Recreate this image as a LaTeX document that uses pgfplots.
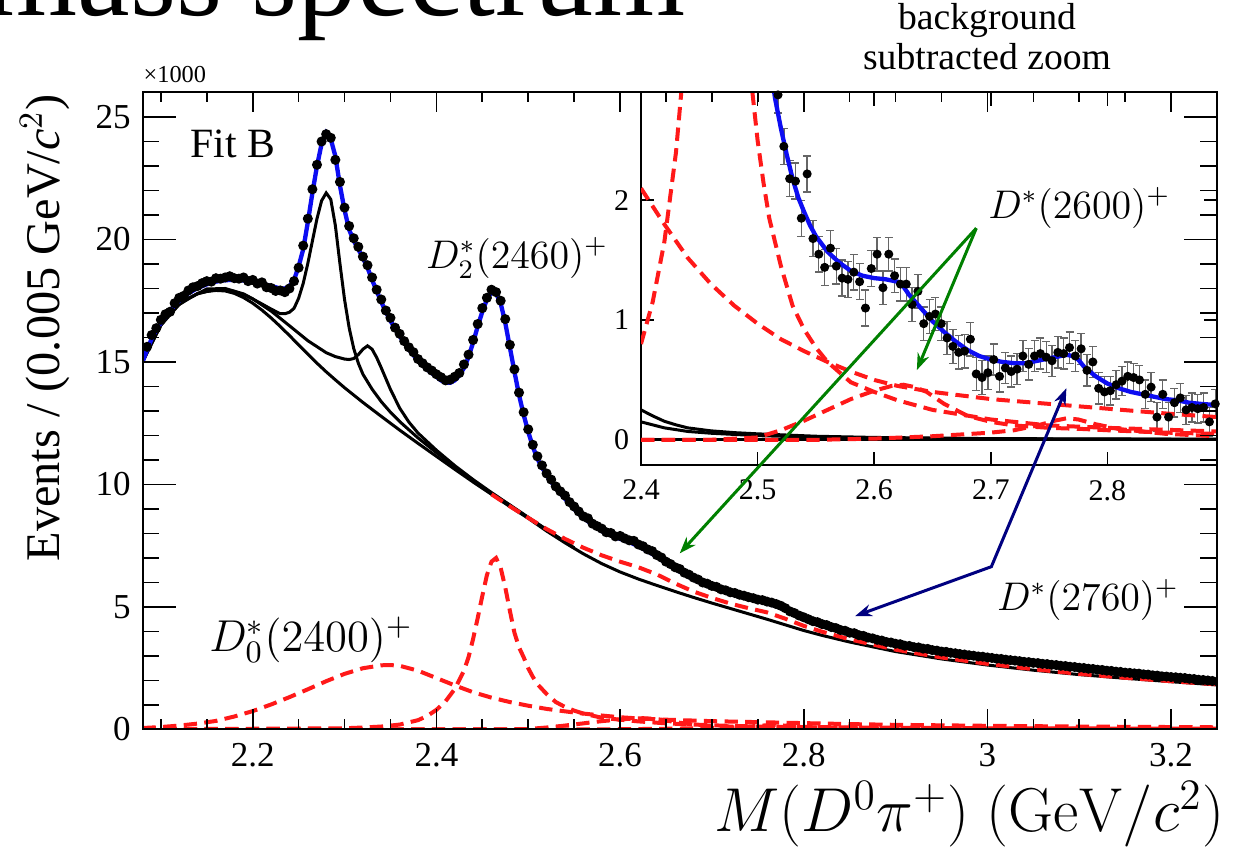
\RequirePackage{fix-cm}
\documentclass[border=0pt]{standalone}
\usepackage[no-math]{fontspec}
\setmainfont{Liberation Serif}
\usepackage{pgfplots}
\pgfplotsset{compat=1.18}
\usetikzlibrary{arrows.meta}
\definecolor{fitblue}{rgb}{0.05,0.05,0.95}
\definecolor{compred}{rgb}{1,0.1,0.1}
\definecolor{arrgreen}{rgb}{0,0.5,0}
\definecolor{arrnavy}{rgb}{0,0,0.5}
\pgfplotsset{
  /pgf/number format/assume math mode=true,
  compdash/.style={compred, line width=1.2pt, dash pattern=on 4pt off 2.2pt},
  bline/.style={black, line width=0.9pt},
  fitline/.style={fitblue, line width=1.3pt},
  mainbox/.style={at={(42.75pt,37.05pt)}, anchor=south west, scale only axis,
    width=322.35pt, height=191.1pt, xmin=2.08, xmax=3.25, ymin=0, ymax=26,
    axis line style={line width=0.6pt}, tick align=inside,
    tick style={black, line width=0.5pt}},
}
\begin{document}
\begin{tikzpicture}
% ---------------- main axis with the curves ----------------
\begin{axis}[mainbox, xtick=\empty, ytick=\empty]
% data
\addplot[only marks, mark=*, mark size=1.3pt, black] table {
2.085 15.62
2.090 16.10
2.095 16.38
2.100 16.72
2.105 16.95
2.110 17.05
2.115 17.40
2.120 17.62
2.125 17.70
2.130 17.92
2.135 18.05
2.140 18.10
2.145 18.22
2.150 18.30
2.155 18.28
2.160 18.42
2.165 18.40
2.170 18.45
2.175 18.50
2.180 18.42
2.185 18.40
2.190 18.45
2.195 18.30
2.200 18.35
2.205 18.20
2.210 18.25
2.215 18.05
2.220 18.02
2.225 17.90
2.230 17.92
2.235 17.85
2.240 18.00
2.245 18.30
2.250 18.85
2.255 19.75
2.260 20.85
2.265 22.05
2.270 23.05
2.275 24.00
2.280 24.30
2.285 24.15
2.290 23.25
2.295 22.35
2.300 21.30
2.305 20.55
2.310 20.05
2.315 19.70
2.320 19.30
2.325 18.95
2.330 18.45
2.335 17.95
2.340 17.55
2.345 17.10
2.350 16.80
2.355 16.40
2.360 16.15
2.365 15.85
2.370 15.60
2.375 15.40
2.380 15.12
2.385 14.95
2.390 14.78
2.395 14.65
2.400 14.50
2.405 14.38
2.410 14.25
2.415 14.28
2.420 14.40
2.425 14.55
2.430 14.90
2.435 15.30
2.440 15.90
2.445 16.55
2.450 17.20
2.455 17.62
2.460 17.95
2.465 17.85
2.470 17.50
2.475 16.75
2.480 15.70
2.485 14.70
2.490 13.75
2.495 12.95
2.500 12.25
2.505 11.62
2.510 11.15
2.515 10.78
2.520 10.45
2.525 10.20
2.530 9.92
2.535 9.72
2.540 9.55
2.545 9.28
2.550 9.10
2.555 8.90
2.560 8.70
2.565 8.62
2.570 8.40
2.575 8.30
2.580 8.20
2.585 8.05
2.590 8.02
2.595 7.88
2.600 7.90
2.605 7.80
2.610 7.72
2.615 7.70
2.620 7.55
2.625 7.48
2.630 7.35
2.635 7.28
2.640 7.12
2.645 7.02
2.650 6.85
2.655 6.75
2.660 6.62
2.665 6.55
2.670 6.40
2.675 6.32
2.680 6.20
2.685 6.12
2.690 6.00
2.695 5.95
2.700 5.86
2.705 5.82
2.710 5.72
2.715 5.68
2.720 5.60
2.725 5.57
2.730 5.50
2.735 5.46
2.740 5.40
2.745 5.36
2.750 5.30
2.755 5.28
2.760 5.22
2.765 5.18
2.770 5.12
2.775 5.05
2.780 4.95
2.785 4.82
2.790 4.75
2.795 4.65
2.800 4.58
2.805 4.50
2.810 4.42
2.815 4.38
2.820 4.30
2.825 4.26
2.830 4.18
2.835 4.14
2.840 4.06
2.845 4.03
2.850 3.95
2.855 3.93
2.860 3.85
2.865 3.82
2.870 3.75
2.875 3.72
2.880 3.66
2.885 3.63
2.890 3.57
2.895 3.55
2.900 3.50
2.905 3.48
2.910 3.42
2.915 3.41
2.920 3.36
2.925 3.35
2.930 3.30
2.935 3.29
2.940 3.24
2.945 3.22
2.950 3.18
2.955 3.17
2.960 3.13
2.965 3.11
2.970 3.08
2.975 3.06
2.980 3.03
2.985 3.01
2.990 2.98
2.995 2.97
3.000 2.94
3.005 2.92
3.010 2.89
3.015 2.88
3.020 2.85
3.025 2.83
3.030 2.81
3.035 2.79
3.040 2.76
3.045 2.75
3.050 2.72
3.055 2.71
3.060 2.68
3.065 2.67
3.070 2.64
3.075 2.63
3.080 2.60
3.085 2.59
3.090 2.56
3.095 2.55
3.100 2.52
3.105 2.51
3.110 2.48
3.115 2.47
3.120 2.44
3.125 2.43
3.130 2.40
3.135 2.39
3.140 2.36
3.145 2.35
3.150 2.32
3.155 2.31
3.160 2.29
3.165 2.28
3.170 2.25
3.175 2.24
3.180 2.21
3.185 2.20
3.190 2.17
3.195 2.16
3.200 2.14
3.205 2.13
3.210 2.11
3.215 2.10
3.220 2.07
3.225 2.06
3.230 2.03
3.235 2.02
3.240 2.00
3.245 1.98
};
% background (black)
\addplot[bline] table {
2.08 15.0
2.09 15.85
2.10 16.5
2.11 17.0
2.12 17.35
2.13 17.6
2.14 17.78
2.15 17.88
2.16 17.92
2.17 17.9
2.18 17.8
2.19 17.63
2.20 17.4
2.21 17.12
2.22 16.8
2.23 16.45
2.24 16.08
2.25 15.7
2.26 15.32
2.27 14.95
2.28 14.6
2.29 14.27
2.30 13.95
2.32 13.35
2.34 12.78
2.36 12.22
2.38 11.68
2.40 11.15
2.42 10.62
2.44 10.1
2.46 9.6
2.48 9.1
2.50 8.62
2.52 8.1
2.54 7.62
2.56 7.17
2.58 6.77
2.60 6.43
2.62 6.14
2.64 5.88
2.66 5.63
2.68 5.39
2.70 5.16
2.72 4.94
2.74 4.72
2.76 4.5
2.78 4.27
2.80 4.04
2.82 3.84
2.85 3.57
2.90 3.18
2.95 2.88
3.00 2.63
3.05 2.42
3.10 2.24
3.15 2.09
3.20 1.95
3.25 1.82
};
% background + narrow feed-down (black)
\addplot[bline] table {
2.08 15.0
2.10 16.5
2.12 17.35
2.14 17.8
2.16 17.95
2.17 17.95
2.18 17.88
2.19 17.75
2.20 17.57
2.21 17.37
2.22 17.16
2.23 16.97
2.235 16.97
2.24 17.03
2.245 17.19
2.25 17.6
2.255 18.21
2.26 19.02
2.265 19.94
2.27 20.85
2.275 21.58
2.28 21.9
2.285 21.64
2.29 20.57
2.295 19.01
2.30 17.55
2.305 16.4
2.31 15.55
2.315 14.95
2.32 14.5
2.33 13.89
2.34 13.38
2.35 12.95
2.36 12.57
2.38 11.9
2.40 11.3
2.42 10.72
2.44 10.17
2.46 9.65
2.50 8.65
2.55 7.41
};
% background + broad feed-down (black)
\addplot[bline] table {
2.08 15.0
2.10 16.52
2.12 17.4
2.15 17.98
2.17 18.0
2.19 17.78
2.20 17.58
2.22 17.08
2.24 16.48
2.26 15.87
2.28 15.38
2.29 15.22
2.30 15.12
2.305 15.1
2.31 15.14
2.315 15.3
2.32 15.52
2.325 15.66
2.33 15.52
2.335 15.18
2.34 14.76
2.345 14.32
2.35 13.88
2.36 13.12
2.37 12.55
2.38 12.1
2.40 11.4
2.42 10.77
2.44 10.2
2.46 9.67
2.50 8.66
2.55 7.41
};
% background + D*(2600) + D*(2760) (red dashed)
\addplot[compdash] table {
2.46 9.6
2.48 9.11
2.50 8.64
2.52 8.18
2.54 7.78
2.56 7.42
2.58 7.11
2.60 6.85
2.62 6.62
2.64 6.33
2.66 5.96
2.68 5.63
2.70 5.37
2.72 5.14
2.74 4.95
2.76 4.78
2.78 4.52
2.80 4.23
2.82 3.99
2.85 3.68
2.90 3.26
2.95 2.94
3.00 2.68
3.05 2.46
3.10 2.27
3.15 2.11
3.20 1.97
3.25 1.84
};
% D0*(2400)
\addplot[compdash] table {
2.08 0.06
2.10 0.1
2.12 0.16
2.14 0.24
2.16 0.35
2.18 0.53
2.20 0.75
2.22 1.02
2.24 1.32
2.26 1.64
2.28 1.97
2.30 2.27
2.32 2.5
2.34 2.62
2.35 2.63
2.36 2.6
2.38 2.4
2.40 2.1
2.42 1.8
2.44 1.52
2.46 1.3
2.48 1.12
2.50 0.97
2.52 0.84
2.54 0.74
2.56 0.65
2.58 0.57
2.60 0.5
2.62 0.45
2.65 0.4
2.70 0.34
2.75 0.3
2.80 0.26
2.85 0.22
2.90 0.19
3.00 0.15
3.10 0.12
3.25 0.09
};
% D2*(2460)
\addplot[compdash] table {
2.08 0.02
2.20 0.03
2.30 0.05
2.32 0.08
2.34 0.12
2.36 0.2
2.38 0.38
2.39 0.55
2.40 0.8
2.41 1.15
2.42 1.65
2.43 2.4
2.435 2.95
2.44 3.7
2.445 4.55
2.45 5.45
2.455 6.3
2.46 6.85
2.465 7.0
2.47 6.6
2.475 5.8
2.48 4.85
2.485 3.95
2.49 3.35
2.495 2.95
2.50 2.5
2.505 2.15
2.51 1.85
2.52 1.45
2.53 1.12
2.54 0.92
2.55 0.77
2.56 0.65
2.58 0.48
2.60 0.4
2.62 0.33
2.65 0.25
2.70 0.17
2.75 0.12
2.80 0.1
2.90 0.07
3.00 0.05
3.25 0.03
};
% D*(2600)
\addplot[compdash] table {
2.08 0.0
2.40 0.0
2.46 0.0
2.48 0.01
2.50 0.02
2.52 0.08
2.54 0.16
2.56 0.25
2.58 0.34
2.60 0.41
2.615 0.45
2.625 0.46
2.635 0.44
2.645 0.4
2.66 0.3
2.68 0.2
2.70 0.15
2.72 0.12
2.75 0.1
2.78 0.09
2.80 0.08
2.85 0.06
2.90 0.05
3.00 0.03
3.10 0.02
3.25 0.01
};
% D*(2760)
\addplot[compdash] table {
2.08 0.0
2.55 0.0
2.60 0.01
2.65 0.03
2.70 0.06
2.72 0.08
2.74 0.12
2.755 0.16
2.765 0.18
2.775 0.17
2.79 0.13
2.81 0.09
2.85 0.05
2.90 0.03
3.00 0.02
3.25 0.01
};
% total fit (blue)
\addplot[fitline] table {
2.080 15.00
2.085 15.50
2.090 15.95
2.095 16.30
2.100 16.60
2.110 17.10
2.120 17.50
2.130 17.80
2.140 18.02
2.150 18.17
2.160 18.28
2.170 18.34
2.180 18.35
2.190 18.33
2.200 18.28
2.210 18.20
2.220 18.10
2.225 18.05
2.230 18.00
2.235 18.00
2.240 18.10
2.245 18.35
2.250 18.90
2.255 19.60
2.260 20.70
2.265 21.90
2.270 23.00
2.275 23.90
2.280 24.35
2.285 24.10
2.290 23.40
2.295 22.20
2.300 21.20
2.305 20.40
2.310 19.95
2.315 19.60
2.320 19.25
2.325 18.85
2.330 18.35
2.335 17.90
2.340 17.45
2.345 17.05
2.350 16.68
2.360 16.05
2.370 15.52
2.380 15.05
2.390 14.70
2.400 14.40
2.405 14.25
2.410 14.15
2.415 14.15
2.420 14.25
2.425 14.45
2.430 14.75
2.435 15.20
2.440 15.80
2.445 16.45
2.450 17.05
2.455 17.55
2.460 17.85
2.465 17.80
2.470 17.40
2.475 16.60
2.480 15.60
2.485 14.60
2.490 13.65
2.495 12.85
2.500 12.15
2.505 11.55
2.510 11.05
2.515 10.70
2.520 10.38
2.530 9.85
2.540 9.42
2.550 9.00
2.560 8.65
2.570 8.35
2.580 8.10
2.590 7.93
2.600 7.78
2.610 7.65
2.620 7.48
2.630 7.28
2.640 7.05
2.650 6.80
2.660 6.55
2.670 6.34
2.680 6.13
2.690 5.95
2.700 5.80
2.710 5.67
2.720 5.54
2.730 5.43
2.740 5.33
2.750 5.24
2.760 5.15
2.770 5.04
2.780 4.87
2.790 4.68
2.800 4.50
2.810 4.36
2.820 4.24
2.840 4.01
2.860 3.80
2.880 3.61
2.900 3.45
2.925 3.29
2.950 3.14
2.975 3.01
3.000 2.90
3.025 2.79
3.050 2.68
3.075 2.58
3.100 2.48
3.125 2.38
3.150 2.28
3.175 2.19
3.200 2.10
3.225 2.01
3.250 1.92
};
\end{axis}

% ---------------- inset: background subtracted zoom ----------------
\begin{axis}[at={(192.3pt,116.4pt)}, anchor=south west, scale only axis,
  width=172.8pt, height=111.75pt,
  xmin=2.4, xmax=2.894, ymin=-0.21, ymax=2.9,
  xtick={2.4,2.5,2.6,2.7,2.8}, ytick={0,1,2},
  tick align=inside, major tick length=4pt,
  tick style={black, line width=0.5pt},
  axis line style={line width=0.6pt},
  axis background/.style={fill=white},
  ticklabel style={font=\fontsize{9}{10}\selectfont},
  xticklabel style={yshift=-1pt},
  xticklabel={\pgfmathprintnumber[fixed,precision=1,fixed zerofill]{\tick}},
]
\addplot[only marks, mark=*, mark size=1.15pt, black,
  error bars/.cd, y dir=both, y explicit,
  error bar style={gray!80!black, line width=0.4pt},
  error mark options={gray!80!black, mark size=1.2pt, line width=0.4pt, rotate=90}]
  table[x=x, y=y, y error=e] {
x y e
2.5175 2.88 0.15
2.5225 2.45 0.15
2.5275 2.18 0.15
2.5325 2.16 0.15
2.5375 1.85 0.15
2.5425 2.22 0.15
2.5475 1.68 0.15
2.5525 1.55 0.15
2.5575 1.44 0.15
2.5625 1.60 0.15
2.5675 1.45 0.15
2.5725 1.35 0.15
2.5775 1.34 0.15
2.5825 1.40 0.15
2.5875 1.32 0.15
2.5925 1.10 0.15
2.5975 1.43 0.15
2.6025 1.55 0.14
2.6075 1.27 0.14
2.6125 1.55 0.14
2.6175 1.37 0.14
2.6225 1.30 0.14
2.6275 1.30 0.14
2.6325 1.13 0.14
2.6375 1.24 0.14
2.6425 0.97 0.14
2.6475 1.03 0.14
2.6525 1.05 0.14
2.6575 0.97 0.14
2.6625 0.85 0.14
2.6675 0.78 0.14
2.6725 0.73 0.14
2.6775 0.74 0.14
2.6825 0.84 0.14
2.6875 0.55 0.14
2.6925 0.52 0.14
2.6975 0.56 0.14
2.7025 0.67 0.13
2.7075 0.53 0.13
2.7125 0.60 0.13
2.7175 0.57 0.13
2.7225 0.59 0.13
2.7275 0.70 0.13
2.7325 0.63 0.13
2.7375 0.70 0.13
2.7425 0.72 0.13
2.7475 0.69 0.13
2.7525 0.66 0.13
2.7575 0.73 0.13
2.7625 0.72 0.13
2.7675 0.77 0.13
2.7725 0.70 0.13
2.7775 0.76 0.13
2.7825 0.58 0.13
2.7875 0.65 0.13
2.7925 0.43 0.13
2.7975 0.40 0.13
2.8025 0.41 0.12
2.8075 0.46 0.12
2.8125 0.49 0.12
2.8175 0.53 0.12
2.8225 0.52 0.12
2.8275 0.50 0.12
2.8325 0.38 0.12
2.8375 0.44 0.12
2.8425 0.19 0.12
2.8475 0.38 0.12
2.8525 0.19 0.12
2.8575 0.31 0.12
2.8625 0.35 0.12
2.8675 0.25 0.12
2.8725 0.27 0.12
2.8775 0.26 0.12
2.8825 0.27 0.12
2.8875 0.15 0.12
2.8925 0.30 0.12
};
% zero line and feed-down tails (black)
\addplot[bline] table {
2.40 0
2.894 0
};
\addplot[bline] table {
2.40 0.25
2.41 0.2
2.42 0.155
2.43 0.125
2.44 0.1
2.46 0.075
2.48 0.06
2.50 0.05
2.55 0.03
2.60 0.02
2.70 0.01
2.894 0.005
};
\addplot[bline] table {
2.40 0.15
2.41 0.125
2.42 0.1
2.43 0.085
2.44 0.07
2.46 0.055
2.50 0.035
2.55 0.022
2.60 0.015
2.70 0.008
2.894 0.004
};
% D0*(2400)
\addplot[compdash] table {
2.40 2.1
2.42 1.8
2.44 1.52
2.46 1.3
2.48 1.12
2.50 0.97
2.52 0.84
2.54 0.74
2.56 0.65
2.58 0.57
2.60 0.5
2.62 0.45
2.65 0.4
2.70 0.34
2.75 0.3
2.80 0.26
2.85 0.22
2.894 0.19
};
% D2*(2460)
\addplot[compdash] table {
2.40 0.8
2.41 1.15
2.42 1.65
2.43 2.4
2.435 2.95
2.44 3.7
2.445 4.55
2.45 5.45
2.455 6.3
2.46 6.85
2.465 7.0
2.47 6.6
2.475 5.8
2.48 4.85
2.485 3.95
2.49 3.35
2.495 2.95
2.50 2.5
2.505 2.15
2.51 1.85
2.52 1.45
2.53 1.12
2.54 0.92
2.55 0.77
2.56 0.65
2.58 0.48
2.60 0.4
2.62 0.33
2.65 0.25
2.70 0.17
2.75 0.12
2.80 0.1
2.894 0.07
};
% D*(2600)
\addplot[compdash] table {
2.40 0.0
2.46 0.0
2.48 0.01
2.50 0.02
2.52 0.08
2.54 0.16
2.56 0.25
2.58 0.34
2.60 0.41
2.615 0.45
2.625 0.46
2.635 0.44
2.645 0.4
2.66 0.3
2.68 0.2
2.70 0.15
2.72 0.12
2.75 0.1
2.78 0.09
2.80 0.08
2.85 0.06
2.894 0.05
};
% D*(2760)
\addplot[compdash] table {
2.40 0.0
2.55 0.0
2.60 0.01
2.65 0.03
2.70 0.06
2.72 0.08
2.74 0.12
2.755 0.16
2.765 0.18
2.775 0.17
2.79 0.13
2.81 0.09
2.85 0.05
2.894 0.03
};
% total minus background (blue)
\addplot[fitline] table {
2.505 3.6
2.51 3.2
2.515 2.85
2.52 2.6
2.525 2.38
2.53 2.18
2.535 2.02
2.54 1.9
2.545 1.79
2.55 1.7
2.56 1.57
2.57 1.48
2.58 1.41
2.59 1.37
2.60 1.35
2.61 1.34
2.62 1.32
2.625 1.28
2.63 1.21
2.64 1.1
2.65 0.99
2.66 0.9
2.67 0.82
2.68 0.75
2.69 0.7
2.70 0.67
2.71 0.65
2.72 0.64
2.73 0.64
2.74 0.66
2.75 0.68
2.76 0.7
2.765 0.71
2.77 0.7
2.775 0.67
2.78 0.61
2.79 0.53
2.80 0.47
2.81 0.43
2.82 0.4
2.83 0.38
2.84 0.36
2.85 0.34
2.86 0.33
2.87 0.31
2.88 0.3
2.894 0.29
};
\end{axis}

% ---------------- main frame, x ticks, labels, arrows ----------------
\begin{axis}[mainbox, clip=false,
  xtick={2.2,2.4,2.6,2.8,3.0,3.2},
  minor xtick={2.1,2.15,2.25,2.3,2.35,2.45,2.5,2.55,2.65,2.7,2.75,2.85,2.9,2.95,3.05,3.1,3.15,3.25},
  ytick=\empty, major tick length=6pt, minor tick length=3pt,
  xticklabel style={font=\fontsize{10.5}{12}\selectfont, yshift=-0.5pt},
]
\node[font=\fontsize{12.5}{14}\selectfont] at (axis cs:2.1786,23.9) {Fit B};
\node[font=\fontsize{12}{14}\selectfont] at (axis cs:2.488,19.24) {$D_2^*(2460)^+$};
\node[font=\fontsize{13.4}{15}\selectfont] at (axis cs:2.2635,3.65) {$D_0^*(2400)^+$};
\node[font=\fontsize{12}{14}\selectfont] at (axis cs:3.10,21.29) {$D^*(2600)^+$};
\node[font=\fontsize{12}{14}\selectfont] at (axis cs:3.1095,5.29) {$D^*(2760)^+$};
\draw[arrgreen, line width=0.9pt, -{Stealth[length=5pt,width=3.6pt]}]
  (axis cs:2.9879,20.46) -- (axis cs:2.665,7.19);
\draw[arrgreen, line width=0.9pt, -{Stealth[length=5pt,width=3.6pt]}]
  (axis cs:2.9879,20.46) -- (axis cs:2.9232,14.67);
\draw[arrnavy, line width=0.9pt, {Stealth[length=5pt,width=3.6pt]}-{Stealth[length=5pt,width=3.6pt]}]
  (axis cs:3.086,13.93) -- (axis cs:3.0043,6.645) -- (axis cs:2.856,4.63);
\end{axis}
\begin{axis}[mainbox,
  xtick=\empty, ytick={0,5,10,15,20,25},
  minor ytick={1,2,3,4,6,7,8,9,11,12,13,14,16,17,18,19,21,22,23,24},
  major tick length=10pt, minor tick length=5pt,
  yticklabel style={font=\fontsize{10.5}{12}\selectfont},
]
\end{axis}

% ---------------- free texts ----------------
\node[anchor=west, inner sep=0, font=\fontsize{7.3}{8}\selectfont] at (42.9pt,233.4pt) {×1000};
\node[rotate=90, inner sep=0, font=\fontsize{14.5}{16}\selectfont] at (13.5pt,157.5pt) {Events / (0.005 GeV/\textit{c}$^{2}$)};
\node[anchor=base east, inner sep=0, font=\fontsize{18.6}{20}\selectfont] at (367.5pt,6.3pt) {$M(D^0\pi^+)\;(\mathrm{GeV}/c^2)$};
\node[anchor=base west, inner sep=0, font=\fontsize{35.5}{40}\selectfont] at (-4.5pt,251.1pt) {mass spectrum};
\node[anchor=base, inner sep=0, font=\fontsize{11.3}{12}\selectfont] at (296.1pt,246.9pt) {background};
\node[anchor=base, inner sep=0, font=\fontsize{11.3}{12}\selectfont] at (296.1pt,234.9pt) {subtracted zoom};
\pgfresetboundingbox
\useasboundingbox (0pt,0pt) rectangle (372.3pt,255.9pt);
\end{tikzpicture}
\end{document}
